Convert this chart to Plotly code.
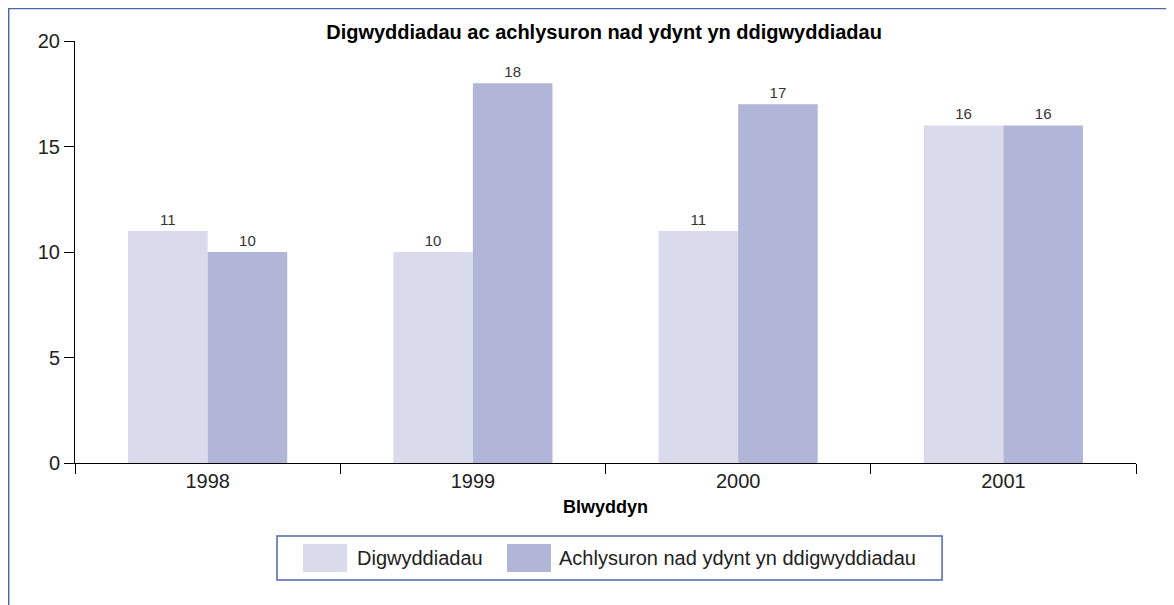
import plotly.graph_objects as go

years = ['1998', '1999', '2000', '2001']
digwyddiadau = [11, 10, 11, 16]
achlysuron = [10, 18, 17, 16]

series_names = ['Digwyddiadau', 'Achlysuron nad ydynt yn ddigwyddiadau']
colors = ['#D9DAEC', '#B1B5D7']
FONT = 'Liberation Sans, Arial, Helvetica, sans-serif'
FRAME = '#4A68A8'

fig = go.Figure()

for name, vals, col in zip(series_names, [digwyddiadau, achlysuron], colors):
    fig.add_trace(go.Bar(
        x=years, y=vals,
        name=name,
        marker=dict(color=col, line=dict(width=0)),
        text=[str(v) for v in vals],
        textposition='outside',
        textfont=dict(size=15, color='#333333'),
        cliponaxis=False,
        showlegend=False,
    ))

# outer frame (only its top and left edges are inside the picture)
fig.add_shape(type='rect', xref='paper', yref='paper',
              x0=-0.0625, x1=1.2, y0=-0.6, y1=1.0770,
              line=dict(color=FRAME, width=1.5), layer='below')

# legend drawn by hand so the swatches are as big as in the original
fig.add_shape(type='rect', xref='paper', yref='paper',
              x0=0.1904, x1=0.8172, y0=-0.2773, y1=-0.1730,
              line=dict(color=FRAME, width=1.5), fillcolor='white')
legend_pos = [(0.2149, 0.2564, 0.2639), (0.4072, 0.4486, 0.4543)]
for (sx0, sx1, tx), name, col in zip(legend_pos, series_names, colors):
    fig.add_shape(type='rect', xref='paper', yref='paper',
                  x0=sx0, x1=sx1, y0=-0.2583, y1=-0.1919,
                  line=dict(width=0), fillcolor=col)
    fig.add_annotation(text=name, xref='paper', yref='paper',
                       x=tx, y=-0.2251, xanchor='left', yanchor='middle',
                       showarrow=False,
                       font=dict(size=20, color='#222222'))

fig.update_layout(
    width=1166, height=597,
    margin=dict(l=67, r=38, t=33, b=142),
    paper_bgcolor='white',
    plot_bgcolor='white',
    font=dict(family=FONT, size=20, color='#222222'),
    title=dict(text='<b>Digwyddiadau ac achlysuron nad ydynt yn ddigwyddiadau</b>',
               x=0.5112, xref='container', xanchor='center',
               y=0.9598, yref='container', yanchor='middle',
               font=dict(size=20, color='#000000')),
    barmode='group',
    bargap=0.4,
    bargroupgap=0,
    showlegend=False,
)

fig.update_xaxes(
    type='category',
    showline=True, linecolor='#000000', linewidth=1,
    ticks='outside', tickson='boundaries', ticklen=10,
    tickcolor='#000000',
    showgrid=False,
    tickfont=dict(size=20, color='#222222'),
    title=dict(text='<b>Blwyddyn</b>', font=dict(size=18, color='#000000'), standoff=9),
    layer='below traces',
)
fig.update_yaxes(
    range=[0, 20], dtick=5,
    showline=True, linecolor='#000000', linewidth=1,
    ticks='outside', ticklen=10, tickcolor='#000000',
    showgrid=False, zeroline=False,
    tickfont=dict(size=20, color='#222222'),
)

fig.write_html('out.html')
